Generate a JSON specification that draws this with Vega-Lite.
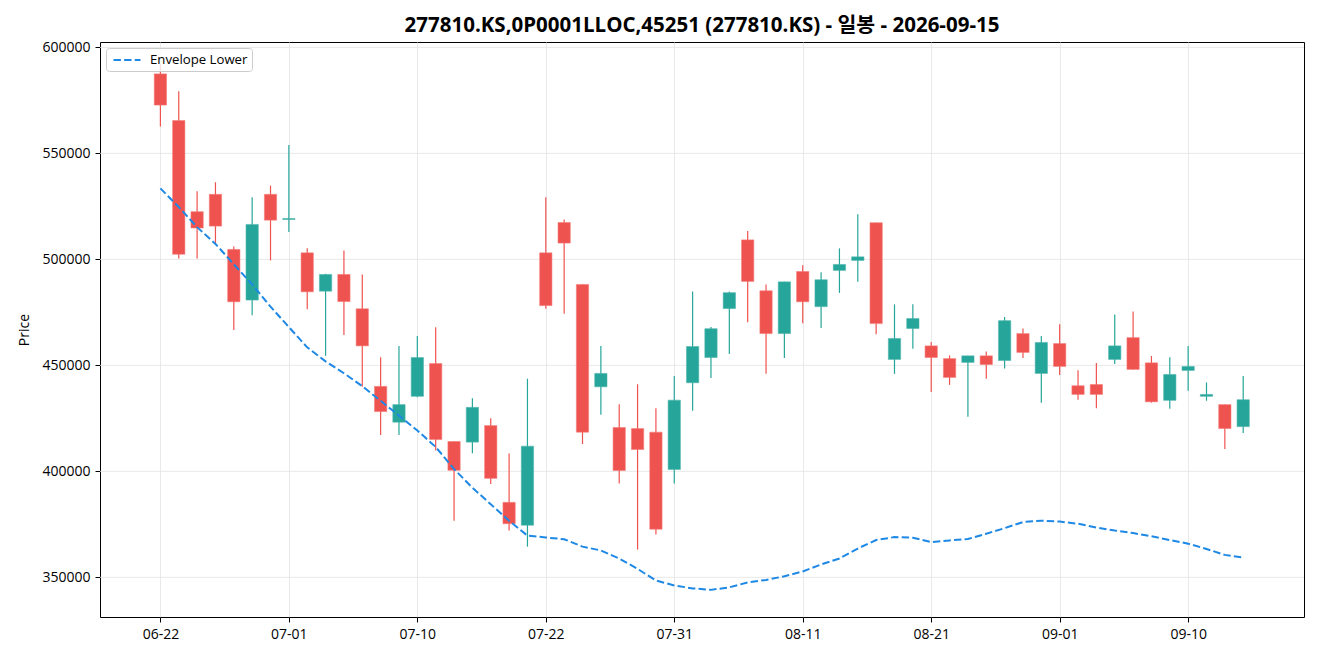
{
  "$schema": "https://vega.github.io/schema/vega-lite/v6.json",
  "width": 1204,
  "height": 575,
  "autosize": {"type": "none"},
  "padding": {"left": 100, "top": 42, "right": 16, "bottom": 43},
  "background": "white",
  "title": {
    "text": "277810.KS,0P0001LLOC,45251 (277810.KS) - 일봉 - 2026-09-15",
    "fontSize": 20.5,
    "fontWeight": "bold",
    "font": "'Open Sans', 'Noto Sans CJK KR'",
    "color": "#000",
    "offset": 4,
    "anchor": "middle"
  },
  "config": {
    "font": "'Open Sans', 'Noto Sans CJK KR'",
    "view": {"stroke": "#000", "strokeWidth": 1},
    "axis": {
      "labelFont": "'Open Sans', 'Noto Sans CJK KR'",
      "labelFontSize": 14,
      "labelColor": "#000",
      "titleFont": "'Open Sans', 'Noto Sans CJK KR'",
      "titleFontSize": 14,
      "titleFontWeight": "normal",
      "titleColor": "#000",
      "domain": false,
      "tickColor": "#000",
      "tickSize": 5,
      "labelPadding": 5,
      "gridColor": "#e3e3e3",
      "gridWidth": 0.8
    },
    "legend": {
      "labelFont": "'Open Sans', 'Noto Sans CJK KR'",
      "labelFontSize": 13.2,
      "labelColor": "#000"
    }
  },
  "data": {
    "values": [
      {"date": "06-22", "open": 587500, "high": 592000, "low": 562700, "close": 572800, "env": 533500},
      {"date": "06-23", "open": 565500, "high": 579300, "low": 500400, "close": 502400, "env": 524700},
      {"date": "06-24", "open": 522500, "high": 532100, "low": 500400, "close": 514800, "env": 515200},
      {"date": "06-25", "open": 530700, "high": 536400, "low": 507700, "close": 515700, "env": 507300},
      {"date": "06-26", "open": 504700, "high": 506100, "low": 466700, "close": 480000, "env": 497700},
      {"date": "06-29", "open": 480800, "high": 529300, "low": 473700, "close": 516500, "env": 488200},
      {"date": "06-30", "open": 530700, "high": 534800, "low": 499500, "close": 518500, "env": 477700},
      {"date": "07-01", "open": 518800, "high": 554000, "low": 512900, "close": 519300, "env": 468100},
      {"date": "07-02", "open": 503100, "high": 505200, "low": 476500, "close": 484700, "env": 458500},
      {"date": "07-03", "open": 485000, "high": 493200, "low": 454500, "close": 492900, "env": 451900},
      {"date": "07-06", "open": 492900, "high": 504200, "low": 464300, "close": 480100, "env": 446300},
      {"date": "07-07", "open": 476700, "high": 492900, "low": 439900, "close": 459200, "env": 440200},
      {"date": "07-08", "open": 440100, "high": 453800, "low": 417100, "close": 428200, "env": 433300},
      {"date": "07-09", "open": 423200, "high": 459100, "low": 417100, "close": 431500, "env": 426300},
      {"date": "07-10", "open": 435400, "high": 463800, "low": 435000, "close": 453700, "env": 419300},
      {"date": "07-13", "open": 450900, "high": 468000, "low": 409800, "close": 415000, "env": 411500},
      {"date": "07-14", "open": 414100, "high": 414100, "low": 376700, "close": 400500, "env": 401100},
      {"date": "07-15", "open": 413800, "high": 434500, "low": 408600, "close": 430200, "env": 392300},
      {"date": "07-16", "open": 421600, "high": 425100, "low": 394100, "close": 396700, "env": 384500},
      {"date": "07-20", "open": 385400, "high": 408400, "low": 372100, "close": 375300, "env": 376700},
      {"date": "07-21", "open": 374600, "high": 443700, "low": 364500, "close": 411900, "env": 369700},
      {"date": "07-22", "open": 503100, "high": 529300, "low": 476700, "close": 478200, "env": 368800},
      {"date": "07-23", "open": 517400, "high": 518800, "low": 474400, "close": 507700, "env": 368000},
      {"date": "07-24", "open": 488200, "high": 488200, "low": 412900, "close": 418500, "env": 364500},
      {"date": "07-27", "open": 439900, "high": 459100, "low": 426700, "close": 446200, "env": 362700},
      {"date": "07-28", "open": 420700, "high": 431700, "low": 394300, "close": 400400, "env": 358900},
      {"date": "07-29", "open": 420200, "high": 441100, "low": 363100, "close": 410300, "env": 354000},
      {"date": "07-30", "open": 418500, "high": 429800, "low": 370200, "close": 372700, "env": 348500},
      {"date": "07-31", "open": 400900, "high": 445000, "low": 394300, "close": 433600, "env": 346200},
      {"date": "08-03", "open": 441800, "high": 484900, "low": 428600, "close": 458900, "env": 344800},
      {"date": "08-04", "open": 453700, "high": 468100, "low": 444100, "close": 467300, "env": 344100},
      {"date": "08-05", "open": 476800, "high": 484900, "low": 455400, "close": 484300, "env": 345300},
      {"date": "08-06", "open": 509200, "high": 513400, "low": 470400, "close": 489600, "env": 347600},
      {"date": "08-07", "open": 485200, "high": 488200, "low": 446000, "close": 465000, "env": 348800},
      {"date": "08-10", "open": 465000, "high": 489400, "low": 453500, "close": 489400, "env": 350500},
      {"date": "08-11", "open": 494300, "high": 497200, "low": 469900, "close": 480000, "env": 352800},
      {"date": "08-12", "open": 477700, "high": 493900, "low": 467600, "close": 490400, "env": 356100},
      {"date": "08-13", "open": 494800, "high": 505200, "low": 484200, "close": 497600, "env": 358900},
      {"date": "08-14", "open": 499500, "high": 521300, "low": 489400, "close": 501200, "env": 363600},
      {"date": "08-18", "open": 517300, "high": 517300, "low": 464700, "close": 469700, "env": 367600},
      {"date": "08-19", "open": 452800, "high": 478800, "low": 446000, "close": 462700, "env": 369000},
      {"date": "08-20", "open": 467400, "high": 478800, "low": 457900, "close": 472100, "env": 368700},
      {"date": "08-21", "open": 459200, "high": 461000, "low": 437500, "close": 453700, "env": 366600},
      {"date": "08-24", "open": 453200, "high": 454700, "low": 440800, "close": 444300, "env": 367400},
      {"date": "08-25", "open": 451400, "high": 454500, "low": 425800, "close": 454500, "env": 368100},
      {"date": "08-26", "open": 454500, "high": 456600, "low": 443700, "close": 450400, "env": 370600},
      {"date": "08-27", "open": 452300, "high": 472800, "low": 448500, "close": 471100, "env": 373200},
      {"date": "08-28", "open": 465000, "high": 467400, "low": 453500, "close": 456100, "env": 376100},
      {"date": "08-31", "open": 446200, "high": 463800, "low": 432400, "close": 460800, "env": 376700},
      {"date": "09-01", "open": 460300, "high": 469400, "low": 445500, "close": 449500, "env": 376300},
      {"date": "09-02", "open": 440400, "high": 447700, "low": 433800, "close": 436300, "env": 375300},
      {"date": "09-03", "open": 441000, "high": 451100, "low": 429800, "close": 436300, "env": 373500},
      {"date": "09-04", "open": 452800, "high": 474000, "low": 450700, "close": 459200, "env": 372100},
      {"date": "09-07", "open": 463100, "high": 475400, "low": 448100, "close": 448100, "env": 370900},
      {"date": "09-08", "open": 451200, "high": 454400, "low": 432400, "close": 432800, "env": 369400},
      {"date": "09-09", "open": 433500, "high": 453800, "low": 429500, "close": 445700, "env": 367600},
      {"date": "09-10", "open": 447600, "high": 459100, "low": 438000, "close": 449500, "env": 365900},
      {"date": "09-11", "open": 435400, "high": 442000, "low": 433300, "close": 436300, "env": 363400},
      {"date": "09-14", "open": 431500, "high": 431500, "low": 410600, "close": 420200, "env": 360600},
      {"date": "09-15", "open": 421100, "high": 445000, "low": 418100, "close": 433800, "env": 359300}
    ]
  },
  "layer": [
    {
      "data": {"values": [{"level": 350000}, {"level": 400000}, {"level": 450000}, {"level": 500000}, {"level": 550000}, {"level": 600000}]},
      "mark": {"type": "rule", "color": "#e3e3e3", "strokeWidth": 0.8},
      "encoding": {
        "y": {
          "field": "level",
          "type": "quantitative",
          "scale": {"domain": [331300, 602550], "nice": false, "zero": false},
          "title": "Price",
          "axis": {
            "values": [350000, 400000, 450000, 500000, 550000, 600000],
            "format": "d",
            "grid": false,
            "titlePadding": 10
          }
        }
      }
    },
    {
      "encoding": {
        "x": {
          "field": "date",
          "type": "ordinal",
          "sort": null,
          "scale": {"type": "point", "padding": 0, "range": [60.4, 1143.2]},
          "title": null,
          "axis": {
            "values": ["06-22", "07-01", "07-10", "07-22", "07-31", "08-11", "08-21", "09-01", "09-10"],
            "labelAngle": 0,
            "grid": true
          }
        }
      },
      "layer": [
        {
          "mark": {"type": "rule", "strokeWidth": 1.2},
          "encoding": {
            "y": {"field": "low", "type": "quantitative"},
            "y2": {"field": "high"},
            "color": {
              "condition": {"test": "datum.close >= datum.open", "value": "#26a69a"},
              "value": "#ef5350"
            }
          }
        },
        {
          "mark": {"type": "bar", "size": 12.3, "strokeWidth": 0.8, "strokeOpacity": 0.7},
          "encoding": {
            "y": {"field": "open", "type": "quantitative"},
            "y2": {"field": "close"},
            "color": {
              "condition": {"test": "datum.close >= datum.open", "value": "#26a69a"},
              "value": "#ef5350"
            },
            "stroke": {
              "condition": {"test": "datum.close >= datum.open", "value": "#4db6ac"},
              "value": "#f47c79"
            }
          }
        },
        {
          "mark": {"type": "line", "strokeWidth": 2, "strokeDash": [7.4, 3.2]},
          "encoding": {
            "y": {"field": "env", "type": "quantitative"},
            "color": {
              "datum": "Envelope Lower",
              "type": "nominal",
              "scale": {"range": ["#1e88e5"]},
              "legend": {
                "title": null,
                "orient": "top-left",
                "offset": 6,
                "padding": 4,
                "strokeColor": "#cccccc",
                "fillColor": "rgba(255,255,255,0.8)",
                "cornerRadius": 3,
                "symbolType": "M-2,0L2,0",
                "symbolSize": 182,
                "symbolStrokeWidth": 2,
                "symbolDash": [7.4, 3.2],
                "symbolOffset": 9,
                "labelOffset": 15
              }
            }
          }
        }
      ]
    }
  ]
}
